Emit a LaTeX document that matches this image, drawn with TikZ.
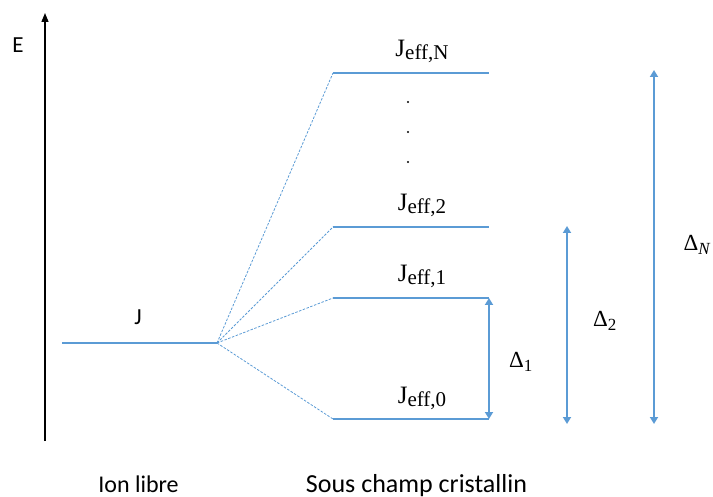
\documentclass[tikz,border=0pt]{standalone}
\usepackage{fontspec}
\setmainfont{Carlito}
\newfontfamily\serifj{Liberation Serif}
\usetikzlibrary{arrows.meta}
\definecolor{lvl}{RGB}{91,155,213}
\newcommand{\jeff}[1]{J\raisebox{-3pt}{\fontsize{21}{24}\selectfont eff,#1}}
\tikzset{
  level/.style={draw=lvl, line width=1.1pt},
  split/.style={draw=lvl, line width=0.8pt, dash pattern=on 2.5pt off 1.5pt},
  gap/.style={draw=lvl, line width=1.8pt, {Triangle[length=7pt,width=8pt]}-{Triangle[length=7pt,width=8pt]}},
  lbl/.style={font=\fontsize{23}{26}\selectfont, inner sep=0pt, anchor=base},
  jlbl/.style={font=\serifj\fontsize{25}{28}\selectfont, inner sep=0pt, anchor=base},
  dlbl/.style={font=\serifj\fontsize{23}{26}\selectfont, inner sep=0pt},
  dotn/.style={circle, fill=black, inner sep=0pt, minimum size=2.4pt}
}
\begin{document}
\begin{tikzpicture}[x=1pt,y=-1pt]
\useasboundingbox (0,0) rectangle (713,497);
% energy axis
\coordinate (ab) at (45,441);
\coordinate (at) at (45,13);
\draw[line width=1.3pt, -{Triangle[length=9pt,width=7pt]}] (ab) -- (at);
\node[lbl] (E) at (18,53) {E};
% free ion
\coordinate (j0) at (62,343);
\coordinate (j1) at (217,343);
\draw[level] (j0) -- (j1);
\node[lbl] (J) at (138,325) {J};
% levels
\coordinate (n0) at (333,73);  \coordinate (n1) at (489,73);
\coordinate (t0) at (333,227); \coordinate (t1) at (489,227);
\coordinate (o0) at (333,298); \coordinate (o1) at (489,298);
\coordinate (z0) at (333,419); \coordinate (z1) at (489,419);
\draw[level] (n0) -- (n1);
\draw[level] (t0) -- (t1);
\draw[level] (o0) -- (o1);
\draw[level] (z0) -- (z1);
\draw[split] (j1) -- (n0);
\draw[split] (j1) -- (t0);
\draw[split] (j1) -- (o0);
\draw[split] (j1) -- (z0);
\node[jlbl] (lN) at (422,57) {\jeff{N}};
\node[jlbl] (l2) at (422,211) {\jeff{2}};
\node[jlbl] (l1) at (422,282) {\jeff{1}};
\node[jlbl] (l0) at (422,403) {\jeff{0}};
\node[dotn] (d1) at (408,102) {};
\node[dotn] (d2) at (408,132) {};
\node[dotn] (d3) at (408,162) {};
% gaps
\coordinate (g1t) at (489,298); \coordinate (g1b) at (489,419);
\coordinate (g2t) at (567,226); \coordinate (g2b) at (567,424);
\coordinate (gNt) at (654,70);  \coordinate (gNb) at (654,424);
\draw[gap] (g1t) -- (g1b);
\draw[gap] (g2t) -- (g2b);
\draw[gap] (gNt) -- (gNb);
\node[dlbl] (D1) at (521,362) {Δ\textsubscript{\fontsize{17}{19}\selectfont 1}};
\node[dlbl] (D2) at (605,321) {Δ\textsubscript{\fontsize{17}{19}\selectfont 2}};
\node[dlbl] (DN) at (697,245) {Δ\textsubscript{\fontsize{17}{19}\selectfont\itshape N}};
% captions
\node[lbl, font=\fontsize{24}{26}\selectfont] (c1) at (138.5,492) {Ion libre};
\node[lbl, font=\fontsize{26}{28}\selectfont] (c2) at (416.5,492) {Sous champ cristallin};
\end{tikzpicture}
\end{document}
